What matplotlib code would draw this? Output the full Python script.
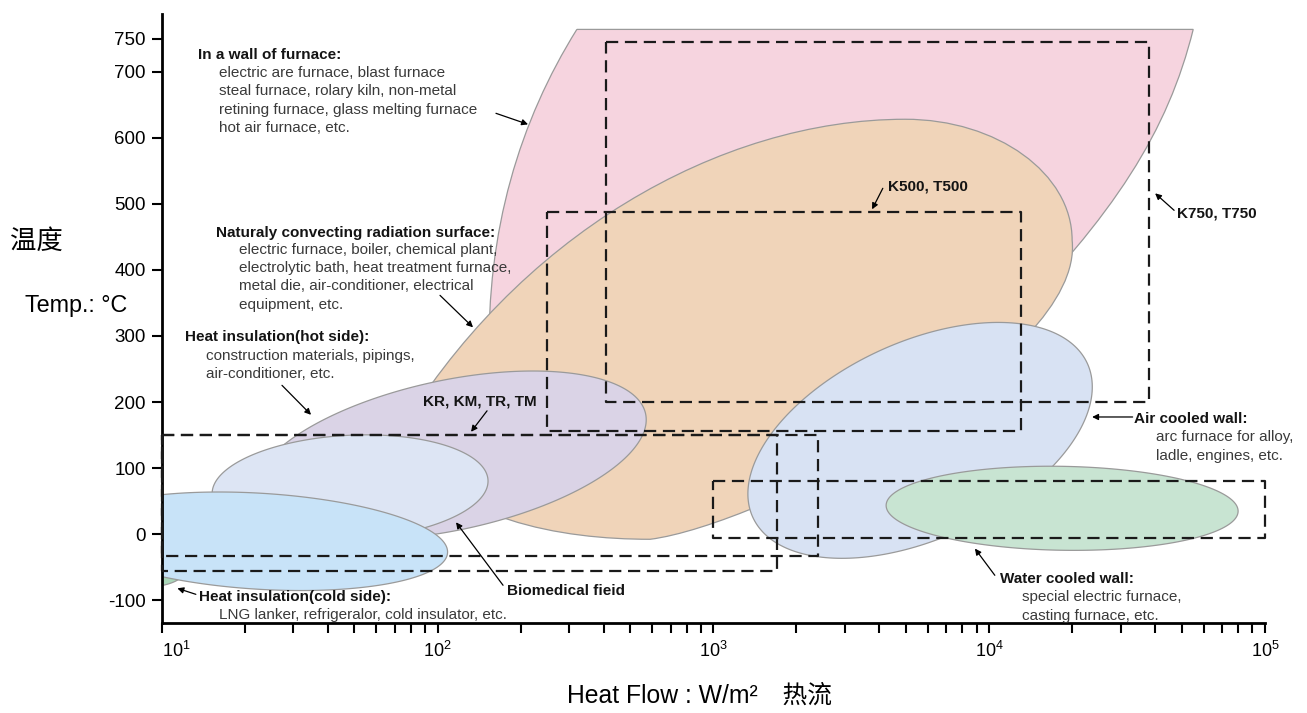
"""
plot.py - heat flow / temperature application map (log heat flow vs temperature).
"""
import numpy as np
import matplotlib
matplotlib.use("Agg")
import matplotlib.pyplot as plt
from matplotlib.path import Path
from matplotlib.patches import PathPatch
from matplotlib.ticker import LogLocator, NullFormatter

plt.rcParams.update({
    "font.family": ["Liberation Sans", "Noto Sans CJK SC", "DejaVu Sans"],
    "mathtext.fontset": "custom",
    "mathtext.rm": "Liberation Sans",
    "mathtext.it": "Liberation Sans:italic",
    "mathtext.bf": "Liberation Sans:bold",
    "axes.unicode_minus": False,
})

# ── axes ──────────────────────────────────────────────────────────────────────
X_LIM = (10, 1e5)
Y_LIM = (-134, 788)
X_TICKS = [1e1, 1e2, 1e3, 1e4, 1e5]
X_TICK_LABELS = [r"$\mathregular{10^{1}}$", r"$\mathregular{10^{2}}$",
                 r"$\mathregular{10^{3}}$", r"$\mathregular{10^{4}}$",
                 r"$\mathregular{10^{5}}$"]
Y_TICKS = [-100, 0, 100, 200, 300, 400, 500, 600, 700, 750]

# ── "In a wall of furnace" (pink), outline as bezier control points ──────────
FURNACE_Q = [320, 54900, 44500, 28600, 10950, 154, 150, 199, 320]
FURNACE_T = [764, 764, 611, 483, 309, 263, 460, 626, 764]

# ── "Naturaly convecting radiation surface" (peach) ─────────────────────────
SURFACE_Q = [70, 191, 1058, 4956, 10680, 19980, 19980, 22270, 1477, 590, 278, 111, 70]
SURFACE_T = [142, 452, 628, 628, 628, 546, 445, 263, 13.5, -7.7, -7.7, 21, 142]

# ── elliptic regions: centre + conjugate semi-axes (decades, degC) ─────────
ELLIPSE_NAMES = ["air cooled wall", "water cooled wall", "cold side (edge)",
                 "hot side", "biomedical", "cold side"]
ELLIPSE_Q = [5616, 18380, 7.36, 111, 48.2, 22.72]
ELLIPSE_T = [142, 39.2, -39.5, 119.4, 71.0, -10.7]
ELLIPSE_MAJOR = [(0.606, 116.8), (0.638, -4.6), (0.223, -13.1),
                 (0.709, 62.9), (0.500, 10.9), (0.680, -17.4)]
ELLIPSE_MINOR = [(0.150, -135.0), (-0.003, -63.5), (-0.013, -39.0),
                 (0.057, -111.0), (0.010, -78.6), (-0.011, -72.5)]
ELLIPSE_COLORS = ["#d8e2f3", "#c8e4d2", "#a9d6b8", "#dad3e6", "#dde5f4", "#c8e3f8"]

# ── product ranges (dashed boxes) ────────────────────────────────────────────
RANGE_NAMES = ["K750, T750", "K500, T500", "KR, KM", "TR, TM", "water cooled"]
RANGE_Q = [(408, 38000), (250, 13000), (10, 2400), (10, 1700), (1000, 100000)]
RANGE_T = [(200, 745), (156, 488), (-33, 150), (-55, 150), (-6, 81)]

EDGE = "#9a9a9a"
BODY = "#3a3a3a"
HEAD = "#141414"

# text: (heat flow, temp, text, weight)
LABELS = [
    (13.5, 724.7, "In a wall of furnace:", "bold"),
    (16.1, 656.6, "electric are furnace, blast furnace\n"
                  "steal furnace, rolary kiln, non-metal\n"
                  "retining furnace, glass melting furnace\n"
                  "hot air furnace, etc.", "normal"),
    (15.8, 455.4, "Naturaly convecting radiation surface:", "bold"),
    (19.0, 388.8, "electric furnace, boiler, chemical plant,\n"
                  "electrolytic bath, heat treatment furnace,\n"
                  "metal die, air-conditioner, electrical\n"
                  "equipment, etc.", "normal"),
    (12.15, 298.0, "Heat insulation(hot side):", "bold"),
    (14.5, 256.0, "construction materials, pipings,\nair-conditioner, etc.", "normal"),
    (88.6, 201.1, "KR, KM, TR, TM", "bold"),
    (178.6, -86.4, "Biomedical fieid", "bold"),
    (13.6, -95.5, "Heat insulation(cold side):", "bold"),
    (16.2, -122.7, "LNG lanker, refrigeralor, cold insulator, etc.", "normal"),
    (4293, 526.5, "K500, T500", "bold"),
    (48000, 485.6, "K750, T750", "bold"),
    (33530, 173.9, "Air cooled wall:", "bold"),
    (40150, 132.7, "arc furnace for alloy,\nladle, engines, etc.", "normal"),
    (10940, -67.6, "Water cooled wall:", "bold"),
    (13160, -109.5, "special electric furnace,\ncasting furnace, etc.", "normal"),
]

# arrows: (from), (to)
ARROWS = [
    ((162.9, 637.0), (212.9, 620.3)),
    ((102.1, 361.5), (134.5, 313.1)),
    ((27.3, 225.3), (34.8, 180.7)),
    ((151.2, 186.7), (132.3, 155.0)),
    ((172.8, -77.3), (116.7, 18.0)),
    ((13.3, -91.0), (11.4, -81.9)),
    ((4114, 523.5), (3762, 491.7)),
    ((46810, 490.2), (39950, 515.9)),
    ((33110, 177.4), (23610, 177.4)),
    ((10480, -62.2), (8877, -21.8)),
]


def bezier_region(ax, qs, ts, codes, color):
    verts = np.column_stack([qs, ts])
    ax.add_patch(PathPatch(Path(verts, codes), facecolor=color,
                           edgecolor=EDGE, lw=0.9, zorder=1))


def ellipse_region(ax, q, t0, major, minor, color):
    s = np.linspace(0, 2 * np.pi, 240)
    u = np.log10(q) + major[0] * np.cos(s) + minor[0] * np.sin(s)
    v = t0 + major[1] * np.cos(s) + minor[1] * np.sin(s)
    ax.fill(10 ** u, v, facecolor=color, edgecolor=EDGE, lw=0.9, zorder=1)


fig = plt.figure(figsize=(13.07, 7.13), dpi=100)
ax = fig.add_axes([0.1237, 0.1266, 0.8442, 0.8544])
ax.set_xscale("log")

C4 = Path.CURVE4
bezier_region(ax, FURNACE_Q, FURNACE_T,
              [Path.MOVETO, Path.LINETO, C4, C4, C4, Path.LINETO, C4, C4, C4],
              "#f6d4df")
bezier_region(ax, SURFACE_Q, SURFACE_T,
              [Path.MOVETO] + [C4] * 12, "#f0d4b9")

for q, t0, ma, mi, c in zip(ELLIPSE_Q, ELLIPSE_T, ELLIPSE_MAJOR, ELLIPSE_MINOR, ELLIPSE_COLORS):
    ellipse_region(ax, q, t0, ma, mi, c)

for (q0, q1), (t0, t1) in zip(RANGE_Q, RANGE_T):
    ax.plot([q0, q1, q1, q0, q0], [t1, t1, t0, t0, t1], color="#1a1a1a",
            lw=1.6, ls=(0, (5.5, 3)), zorder=3, clip_on=False)

for (q0, t0), (q1, t1) in ARROWS:
    ax.annotate("", xy=(q1, t1), xytext=(q0, t0),
                arrowprops=dict(arrowstyle="-|>", color="black", lw=0.9,
                                mutation_scale=9, shrinkA=0, shrinkB=0),
                zorder=4)

for q, t0, txt, w in LABELS:
    ax.text(q, t0, txt, fontsize=11, fontweight=w,
            color=HEAD if w == "bold" else BODY,
            ha="left", va="center", linespacing=1.39, zorder=5)

ax.set_xlim(*X_LIM)
ax.set_ylim(*Y_LIM)
ax.set_xticks(X_TICKS)
ax.set_xticklabels(X_TICK_LABELS)
ax.xaxis.set_minor_locator(LogLocator(base=10, subs=np.arange(2, 10)))
ax.xaxis.set_minor_formatter(NullFormatter())
ax.set_yticks(Y_TICKS)
ax.tick_params(axis="x", which="both", direction="out", length=7.2, width=1.5,
               labelsize=13, pad=6)
ax.tick_params(axis="y", direction="out", length=7, width=1.5,
               labelsize=13.5, pad=4.5)
ax.xaxis.get_major_ticks()[0].label1.set_horizontalalignment("left")

for side in ("top", "right"):
    ax.spines[side].set_visible(False)
for side in ("left", "bottom"):
    ax.spines[side].set_linewidth(2)

ax.set_xlabel("Heat Flow : W/m\u00b2\u3000热流", fontsize=17.8)
ax.xaxis.set_label_coords(0.4874, -0.10)
fig.text(0.0282, 0.661, "温度", fontsize=19, ha="center", va="center")
fig.text(0.0581, 0.5722, "Temp.: \u00b0C", fontsize=16.8, ha="center", va="center")

fig.savefig("out.png", dpi=100)
